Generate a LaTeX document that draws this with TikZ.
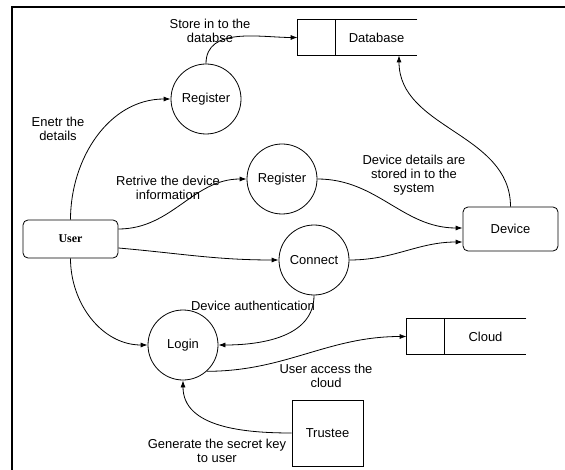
\documentclass[tikz,border=0pt]{standalone}
\usepackage{fontspec}
\setmainfont{Liberation Sans}
\newfontfamily\userfont{Liberation Serif}
\usetikzlibrary{arrows.meta}

\begin{document}
\begin{tikzpicture}[x=1bp, y=1bp, line width=0.8bp,
    font=\fontsize{13}{14}\selectfont,
    process/.style={draw, circle, minimum size=70bp, inner sep=0pt},
    entity/.style={draw, rounded corners=5bp, minimum width=95bp},
    store/.style={minimum width=119bp, minimum height=35bp, inner sep=0pt},
    flow/.style={-{Latex[length=7bp,width=5bp]}},
    note/.style={align=center, inner sep=0pt}]
    \useasboundingbox (0,0) rectangle (565,-470);
    % frame
    \draw[line width=1.3bp] (12,-470) -- (12,-7) -- (565,-7);

    % entities and processes
    \node[entity, minimum height=38bp] (user) at (70.5,-239) {\userfont\bfseries\fontsize{12}{14}\selectfont User};
    \node[entity, minimum height=44bp] (device) at (510.5,-229) {Device};
    \node[draw, minimum width=71bp, minimum height=66bp] (trustee) at (327.5,-433) {Trustee};
    \node[process] (reg1) at (206,-99) {Register};
    \node[process] (reg2) at (282,-179) {Register};
    \node[process] (connect) at (314,-260) {Connect};
    \node[process] (login) at (183,-345) {Login};

    % data stores
    \node[store] (db) at (357.5,-37.5) {};
    \node (dbname) at ([xshift=19bp]db.center) {Database};
    \draw (db.north east) -- (db.north west) -- (db.south west) -- (db.south east);
    \draw ([xshift=38bp]db.north west) -- ([xshift=38bp]db.south west);
    \node[store] (cloud) at (466.5,-336.5) {};
    \node (cloudname) at ([xshift=19bp]cloud.center) {Cloud};
    \draw (cloud.north east) -- (cloud.north west) -- (cloud.south west) -- (cloud.south east);
    \draw ([xshift=38bp]cloud.north west) -- ([xshift=38bp]cloud.south west);

    % flows
    \draw[flow] (user.north) to[out=90,in=180] (reg1.west);
    \draw[flow] (reg1.north) to[out=90,in=180] (db.west);
    \draw[flow] ([yshift=10bp]user.east) to[out=0,in=180] (reg2.west);
    \draw[flow] (reg2.east) to[out=0,in=180] ([yshift=1bp]device.west);
    \draw[flow] ([yshift=-9bp]user.east) to[out=-5,in=180] (connect.west);
    \draw[flow] (connect.east) to[out=0,in=180] ([yshift=-13bp]device.west);
    \draw[flow] (device.north) to[out=90,in=-90] ([xshift=41.5bp]db.south);
    \draw[flow] (user.south) to[out=-90,in=180] (login.west);
    \draw[flow] (connect.south) to[out=-90,in=0] (login.east);
    \draw[flow] (login.-48) to[out=0,in=180] (cloud.west);
    \draw[flow] (trustee.west) to[out=180,in=-90] (login.south);

    % flow labels
    \node[note] (storelbl) at (210,-31) {Store in to the\\databse};
    \node[note] (enterlbl) at (58,-129) {Enetr the\\details};
    \node[note] (retrlbl) at (168,-188) {Retrive the device\\information};
    \node[note] (detaillbl) at (414,-175) {Device details are\\stored in to the\\system};
    \node[note] (authlbl) at (253,-306) {Device authentication};
    \node[note] (accesslbl) at (326,-376) {User access the\\cloud};
    \node[note] (keylbl) at (217,-451) {Generate the secret key\\to user};
\end{tikzpicture}
\end{document}
